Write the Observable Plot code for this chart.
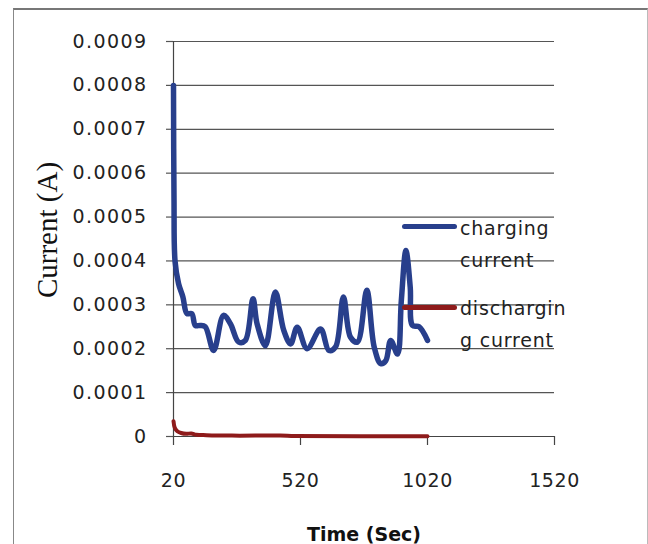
<!DOCTYPE html>
<html>
<head>
<meta charset="utf-8">
<script src="https://cdn.jsdelivr.net/npm/d3@7"></script>
<script src="https://cdn.jsdelivr.net/npm/@observablehq/plot@0.6"></script>
<style>
  html, body { margin: 0; padding: 0; background: #fff; }
  #wrap { position: relative; width: 648px; height: 544px; overflow: hidden; }
  #frame { position: absolute; left: 13px; top: 8px; width: 633px; height: 540px;
           border-top: 2px solid #777; border-left: 1.5px solid #888; border-right: 1px solid #bbb; }
  .sw { position: absolute; height: 5px; border-radius: 2.5px; }
  .lg { position: absolute; font-family: "DejaVu Sans", sans-serif; font-size: 19px;
        letter-spacing: 0.8px; line-height: 32px; color: #222; white-space: nowrap; }
  #chart { position: absolute; left: 0; top: 0; }
  #chart g[aria-label="y-axis tick label"] text { letter-spacing: 1.4px; }
  #chart g[aria-label="x-axis tick label"] text { letter-spacing: 0.6px; }
  #ylab { position: absolute; left: 47px; top: 230px; transform: translate(-50%, -50%) rotate(-90deg);
          font-family: "Liberation Serif", serif; font-size: 29px; line-height: 1; color: #111; white-space: nowrap; }
</style>
</head>
<body>
<div id="wrap">
  <div id="frame"></div>
  <div id="chart"></div>
  <div id="ylab"></div>
  <div class="sw" style="left:402px; top:223.5px; width:55px; background:#283f8c;"></div>
  <div class="lg" id="lg1" style="left:460px; top:212px;"></div>
  <div class="sw" style="left:402px; top:304.5px; width:55px; background:#8e1b1b;"></div>
  <div class="lg" id="lg2" style="left:460px; top:292px;"></div>
</div>
<script>
// ---- data ----
const chargeTime = [20, 22, 26, 40, 57, 73, 92, 106, 125, 145, 178, 217, 244, 277, 303, 333, 349, 382, 421, 454, 481, 507, 546, 599, 632, 658, 689, 717, 744, 781, 810, 836, 856, 875, 902, 917, 935, 952, 961, 987, 1020];
const chargeCurrent = [0.00080, 0.00054, 0.00040, 0.000348, 0.000318, 0.00028, 0.00028, 0.000253, 0.000253, 0.00025, 0.000196, 0.000276, 0.000257, 0.000215, 0.000219, 0.000314, 0.000257, 0.000207, 0.000329, 0.000242, 0.000211, 0.000249, 0.000200, 0.000245, 0.000196, 0.000204, 0.000318, 0.000226, 0.000215, 0.000333, 0.000204, 0.000166, 0.000173, 0.000219, 0.000188, 0.00031, 0.000424, 0.00034, 0.000253, 0.00025, 0.000219];
const dischargeTime = [20, 25, 35, 50, 70, 90, 110, 150, 250, 440, 500, 1020];
const dischargeCurrent = [0.000035, 0.00002, 0.000012, 0.000008, 0.000006, 0.000007, 0.000004, 0.000003, 0.000002, 0.000002, 0.000001, 0.0000005];
const xTicks = [20, 520, 1020, 1520];
const yTicks = [0, 0.0001, 0.0002, 0.0003, 0.0004, 0.0005, 0.0006, 0.0007, 0.0008, 0.0009];
const seriesNames = ["charging current", "discharging current"];
const legendLines = [["charging", "current"], ["dischargin", "g current"]];
const xLabel = "Time (Sec)";
const yLabel = "Current (A)";

const charging = chargeTime.map((t, i) => ({t, v: chargeCurrent[i]}));
const discharging = dischargeTime.map((t, i) => ({t, v: dischargeCurrent[i]}));

const chart = Plot.plot({
  width: 648,
  height: 544,
  marginLeft: 173,
  marginRight: 94,
  marginTop: 41,
  marginBottom: 108,
  style: {fontFamily: "DejaVu Sans, sans-serif", color: "#222", background: "transparent", overflow: "visible"},
  x: {domain: [20, 1520]},
  y: {domain: [0, 0.0009]},
  marks: [
    Plot.gridY(yTicks, {stroke: "#555", strokeOpacity: 1, strokeWidth: 1.2}),
    Plot.axisY({ticks: yTicks, tickSize: 7, tickPadding: 19, stroke: "#555", strokeWidth: 1.2, fontSize: 19,
                tickFormat: d => d === 0 ? "0" : d.toFixed(4), label: null}),
    Plot.ruleX([20], {stroke: "#444", strokeWidth: 1.2}),
    Plot.ruleY([0], {stroke: "#444", strokeWidth: 1.2}),
    Plot.axisX({ticks: xTicks, tickSize: 9, tickPadding: 28, stroke: "#444", strokeWidth: 1.2, fontSize: 19,
                tickFormat: d => String(d), label: null}),
    Plot.line(discharging, {x: "t", y: "v", stroke: "#8e1b1b", strokeWidth: 4, curve: "catmull-rom"}),
    Plot.line(charging, {x: "t", y: "v", stroke: "#283f8c", strokeWidth: 5.5, curve: "catmull-rom"}),
    Plot.text([xLabel], {frameAnchor: "bottom", dy: 104, fontWeight: "bold", fontSize: 19, fill: "#111"})
  ]
});
document.getElementById("chart").appendChild(chart);
document.getElementById("ylab").textContent = yLabel;
document.getElementById("lg1").innerHTML = legendLines[0].join("<br>");
document.getElementById("lg2").innerHTML = legendLines[1].join("<br>");
</script>
</body>
</html>
